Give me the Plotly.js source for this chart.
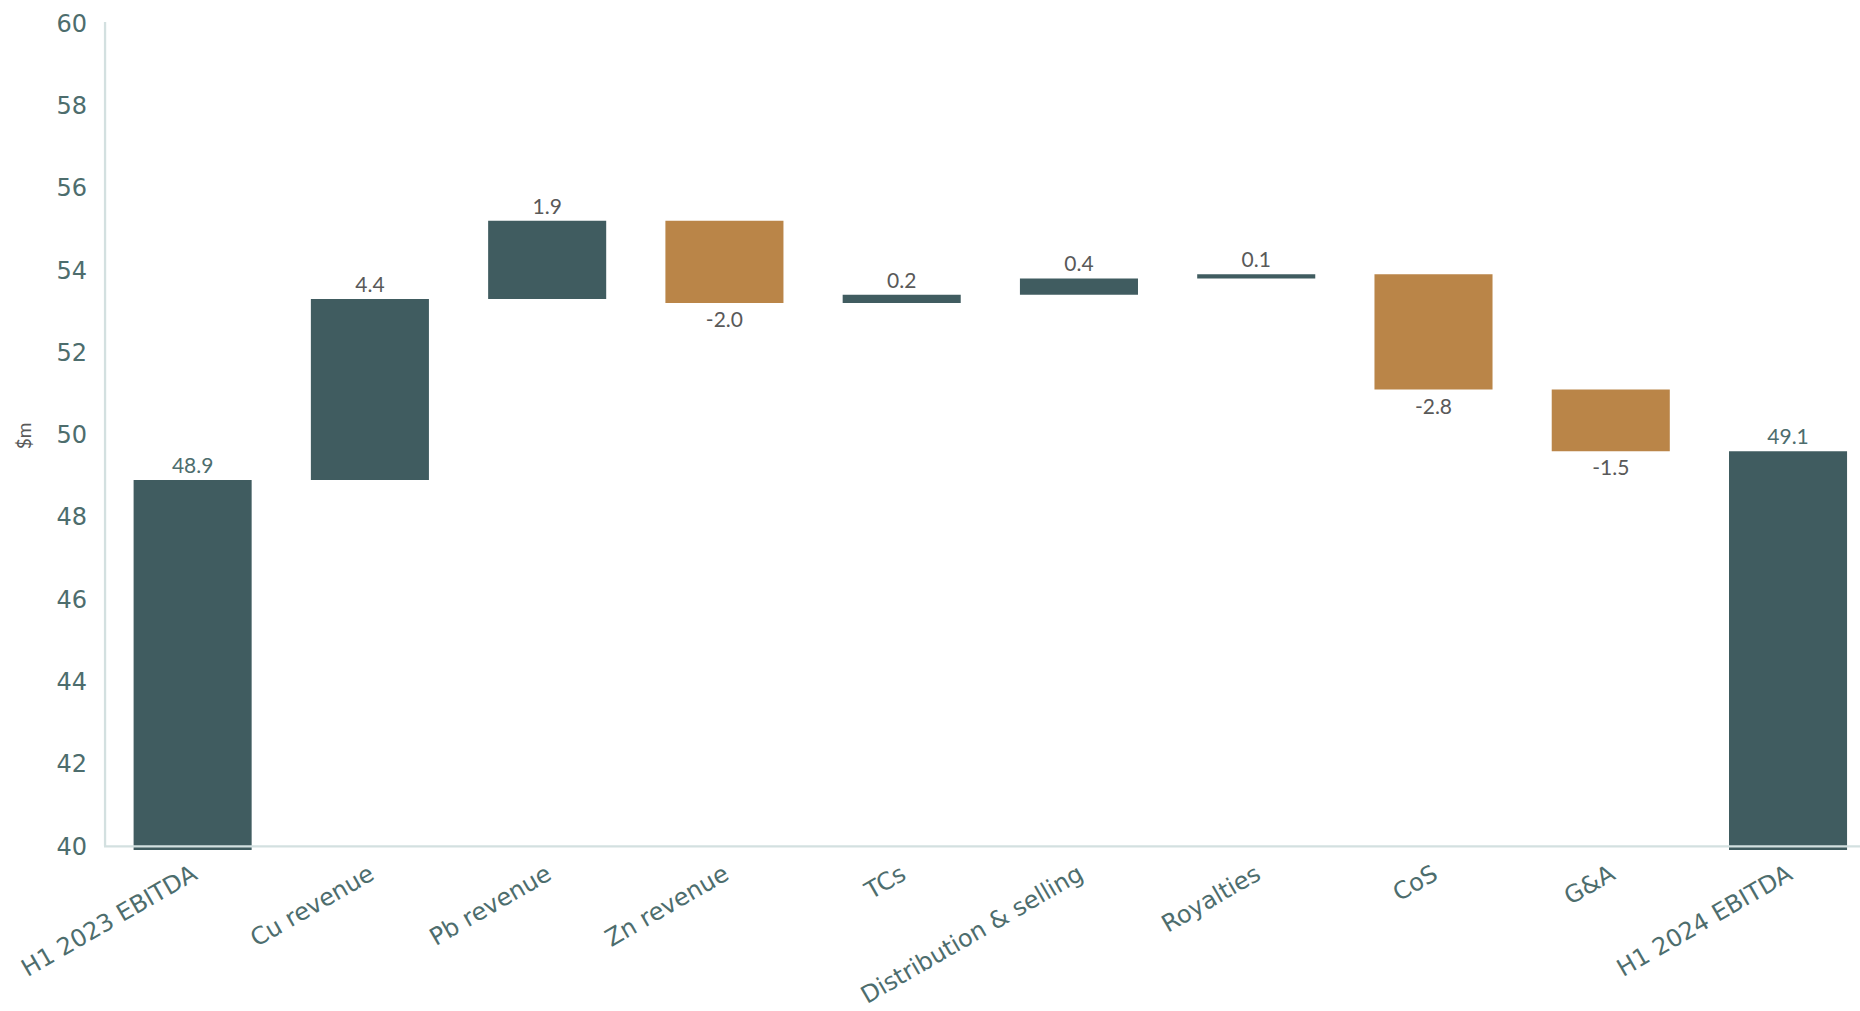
<!DOCTYPE html>
<html>
<head>
<meta charset="utf-8">
<script src="https://cdn.plot.ly/plotly-3.0.1.min.js"></script>
<style>
  html, body { margin: 0; padding: 0; background: #ffffff; }
  #chart { width: 1860px; height: 1011px; }
</style>
</head>
<body>
<div id="chart"></div>
<script>
const categories = ["H1 2023 EBITDA", "Cu revenue", "Pb revenue", "Zn revenue", "TCs",
  "Distribution & selling", "Royalties", "CoS", "G&A", "H1 2024 EBITDA"];
const measures = ["absolute", "relative", "relative", "relative", "relative",
  "relative", "relative", "relative", "relative", "total"];
const values = [48.9, 4.4, 1.9, -2.0, 0.2, 0.4, 0.1, -2.8, -1.5, 0];
const labels = ["48.9", "4.4", "1.9", "-2.0", "0.2", "0.4", "0.1", "-2.8", "-1.5", "49.1"];
const yTicks = [40, 42, 44, 46, 48, 50, 52, 54, 56, 58, 60];

const DARK = "#405C60";
const ORANGE = "#BA8548";
const AXIS_TEXT = "#4D6D6D";
const LABEL_GREY = "#595959";
const TICK_FONT = "DejaVu Sans";
const LABEL_FONT = "Lato";

const labelColors = measures.map(m => (m === "relative" ? LABEL_GREY : AXIS_TEXT));

const trace = {
  type: "waterfall",
  x: categories,
  y: values,
  measure: measures,
  text: labels,
  textposition: "outside",
  textfont: { family: LABEL_FONT, size: 21, color: labelColors },
  cliponaxis: false,
  increasing: { marker: { color: DARK } },
  decreasing: { marker: { color: ORANGE } },
  totals: { marker: { color: DARK } },
  connector: { visible: false },
  hoverinfo: "x+y"
};

const layout = {
  width: 1860,
  height: 1011,
  margin: { l: 104, r: 0, t: 22, b: 161, pad: 0 },
  paper_bgcolor: "#ffffff",
  plot_bgcolor: "#ffffff",
  showlegend: false,
  waterfallgap: 0.334,
  font: { family: TICK_FONT, color: AXIS_TEXT },
  xaxis: {
    type: "category",
    range: [-0.5, 9.406],
    showgrid: false,
    showline: false,
    zeroline: false,
    ticks: "",
    tickangle: -30,
    ticklabelstandoff: 5,
    tickfont: { family: TICK_FONT, size: 24, color: AXIS_TEXT }
  },
  yaxis: {
    range: [39.91, 60.03],
    tickmode: "array",
    tickvals: yTicks,
    ticktext: yTicks.map(String),
    showgrid: false,
    showline: false,
    zeroline: false,
    ticks: "",
    ticklabelstandoff: 16,
    tickfont: { family: TICK_FONT, size: 24, color: AXIS_TEXT },
    title: { text: "$m", standoff: 19, font: { family: LABEL_FONT, size: 19, color: LABEL_GREY } }
  },
  shapes: [
    { type: "line", xref: "paper", yref: "y", x0: 0, x1: 1, y0: 40, y1: 40,
      line: { color: "#D3E0E0", width: 2.3 }, layer: "above" },
    { type: "line", xref: "paper", yref: "y", x0: 0.0006, x1: 0.0006, y0: 40, y1: 60.03,
      line: { color: "#D3E0E0", width: 2.3 }, layer: "above" }
  ]
};

Plotly.newPlot("chart", [trace], layout, { displayModeBar: false, staticPlot: true });
</script>
</body>
</html>
